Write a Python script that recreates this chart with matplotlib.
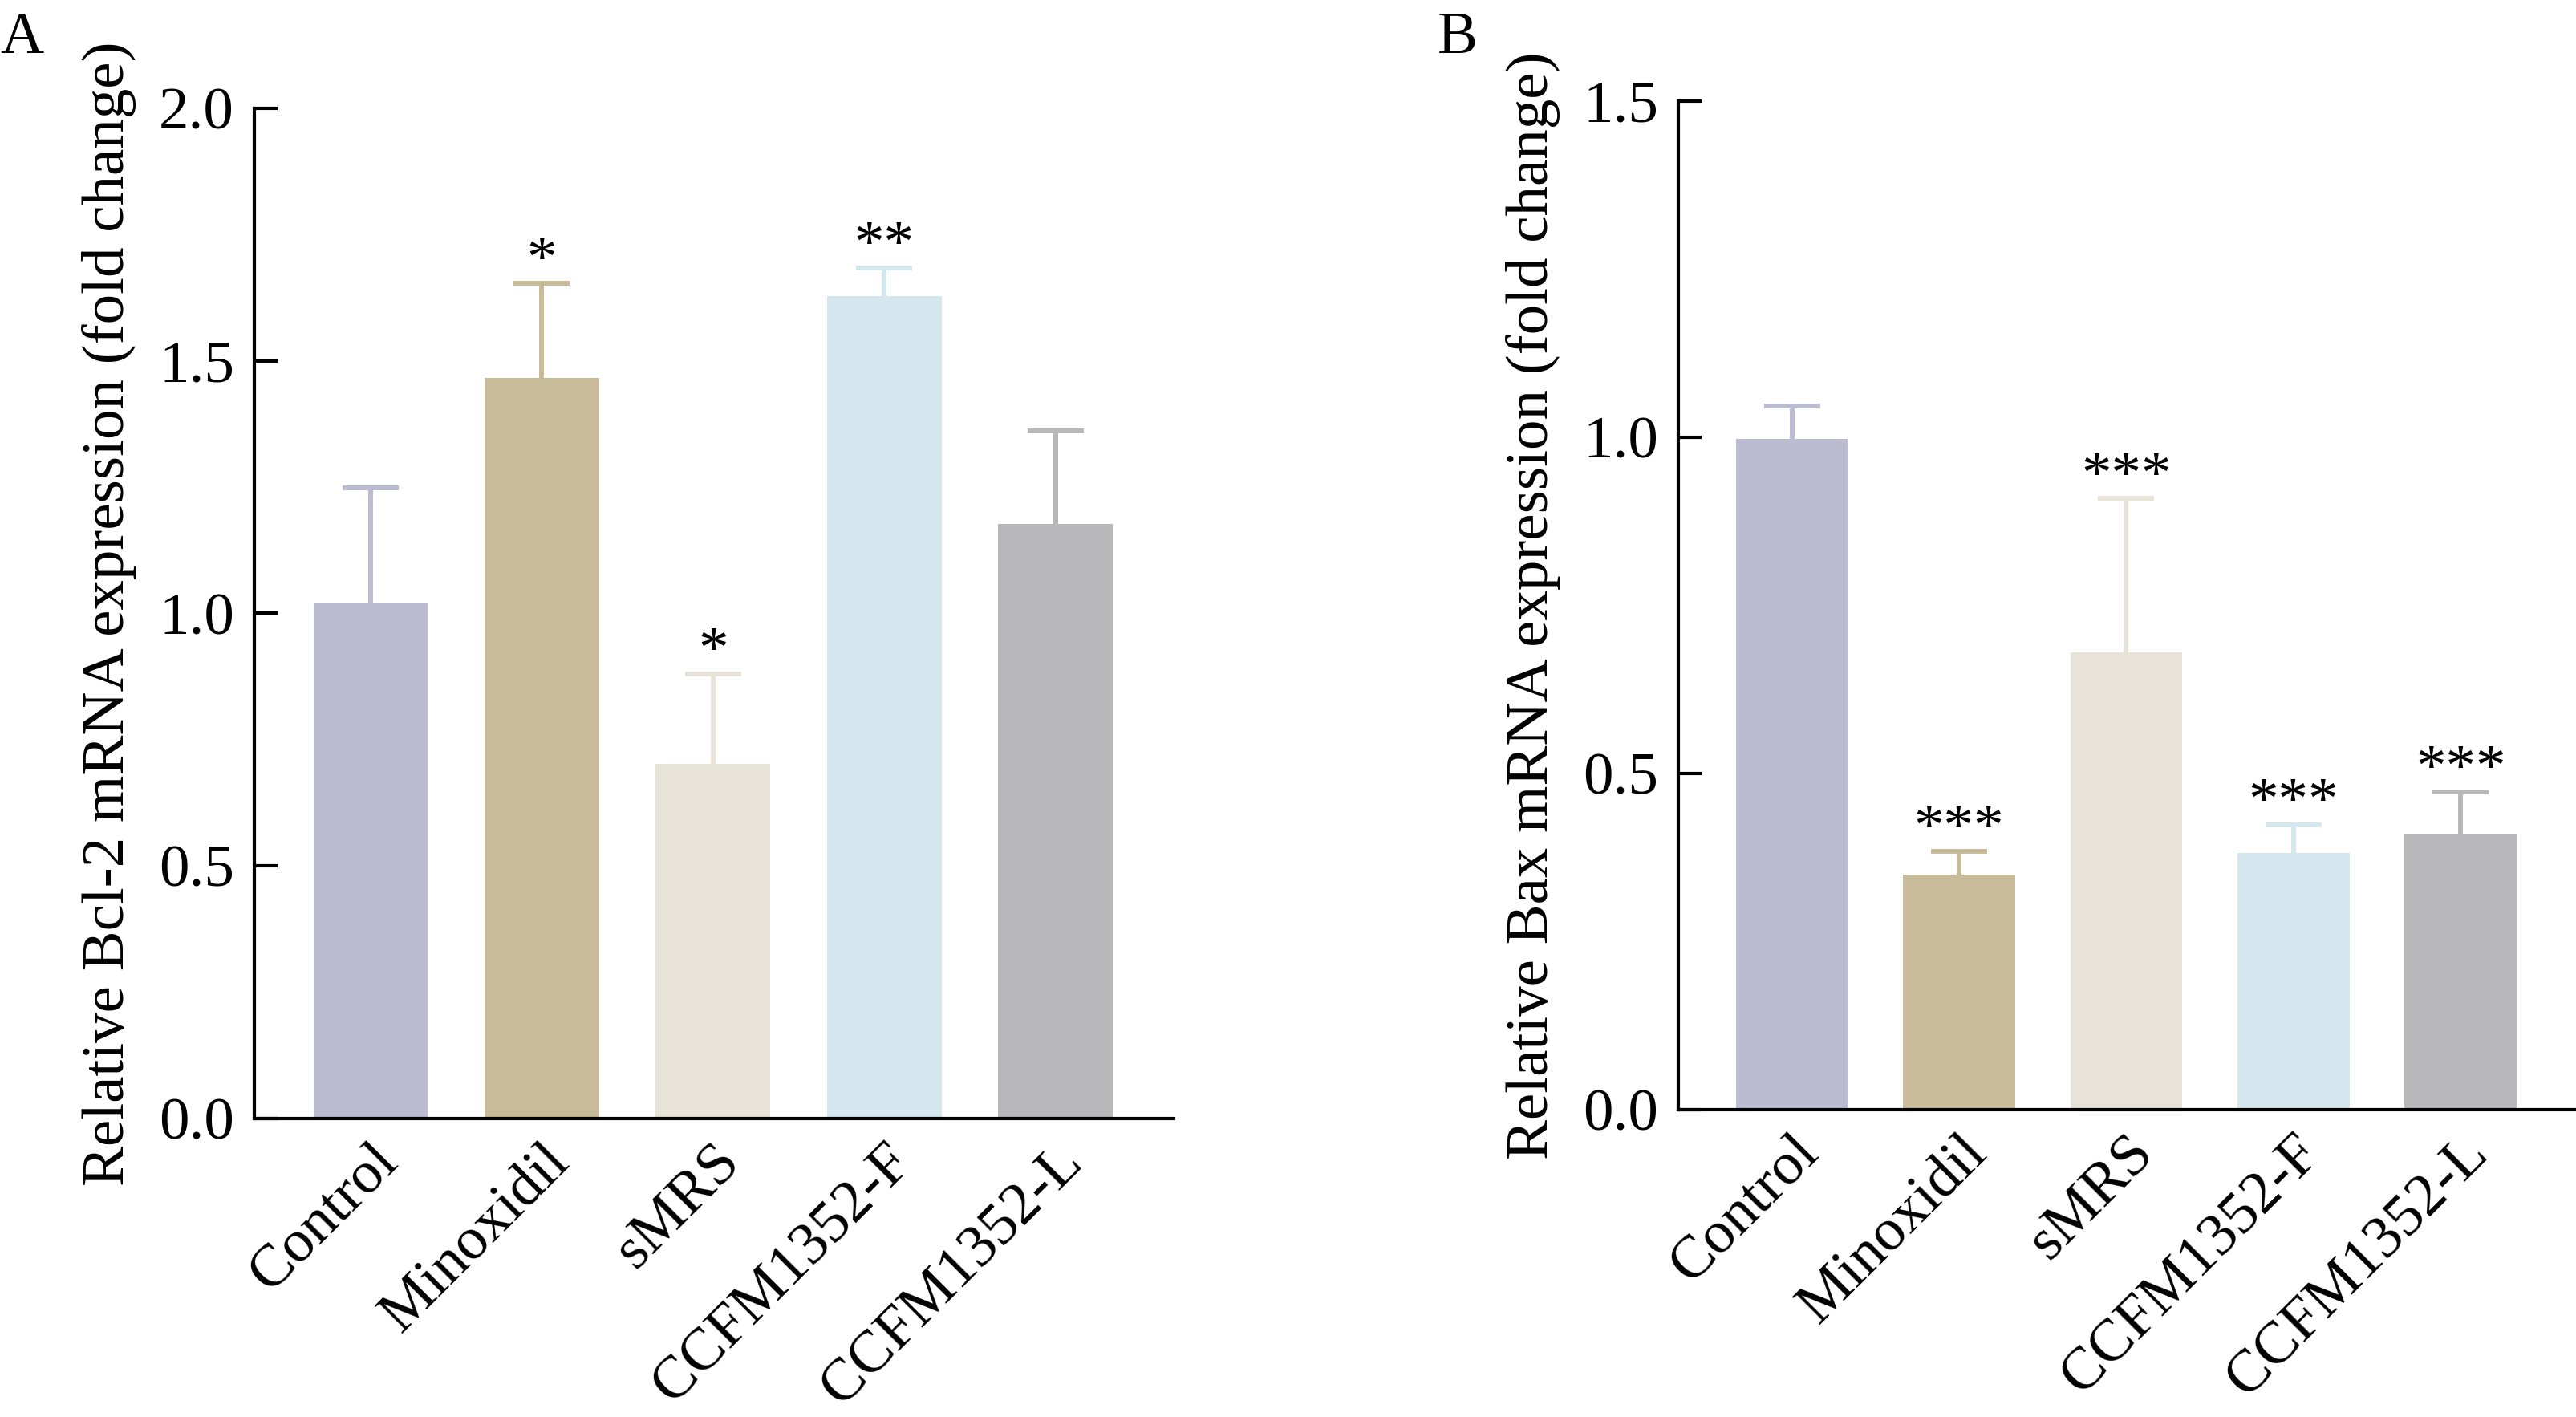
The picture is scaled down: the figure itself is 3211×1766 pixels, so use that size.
import matplotlib
matplotlib.use("Agg")
import matplotlib.pyplot as plt

plt.rcParams['font.family'] = ['Liberation Serif', 'DejaVu Serif']

groups = ["Control", "Minoxidil", "sMRS", "CCFM1352-F", "CCFM1352-L"]
colors = ["#BBBBD1", "#C8BB9A", "#E8E3D8", "#D4E7EE", "#B8B8BA"]

# panel A: Bcl-2
bcl2_mean = [1.02, 1.466, 0.702, 1.628, 1.177]
bcl2_sd = [0.229, 0.188, 0.178, 0.056, 0.184]
bcl2_sig = ["", "*", "*", "**", ""]

# panel B: Bax
bax_mean = [0.998, 0.350, 0.680, 0.382, 0.409]
bax_sd = [0.049, 0.034, 0.229, 0.042, 0.064]
bax_sig = ["", "***", "***", "***", "***"]

FS = 54


def draw_panel(ax, means, sds, sig, ymax, yticks, ylabel):
    x = range(len(groups))
    ax.bar(x, means, width=0.67, color=colors, zorder=2)
    for i in x:
        eb = ax.errorbar(i, means[i], yerr=[[0], [sds[i]]], fmt='none',
                         ecolor=colors[i], elinewidth=4.3, capsize=25,
                         capthick=4.3, zorder=1)
        # only keep the upper cap
        eb[1][0].set_visible(False)
        if sig[i]:
            ax.annotate(sig[i], xy=(i, means[i] + sds[i]), xytext=(0, -6),
                        textcoords='offset points', ha='center', va='bottom',
                        fontsize=FS)
    ax.set_xlim(-0.68, 4.69)
    ax.set_ylim(0, ymax)
    ax.set_yticks(yticks)
    ax.set_yticklabels([f"{t:.1f}" for t in yticks], fontsize=FS)
    ax.set_xticks(list(x))
    ax.set_xticklabels(groups, rotation=45, ha='right',
                       rotation_mode='anchor', fontsize=FS)
    ax.set_ylabel(ylabel, fontsize=FS, labelpad=20)
    for s in ['top', 'right']:
        ax.spines[s].set_visible(False)
    for s in ['left', 'bottom']:
        ax.spines[s].set_linewidth(3)
    ax.tick_params(axis='y', direction='in', length=21, width=3, pad=18)
    ax.tick_params(axis='x', length=0, pad=14)


fig = plt.figure(figsize=(32.11, 17.66), dpi=100)
ax1 = fig.add_axes([0.0987, 0.2107, 0.3569, 0.7129])
ax2 = fig.add_axes([0.6515, 0.2169, 0.3485, 0.7118])

draw_panel(ax1, bcl2_mean, bcl2_sd, bcl2_sig, 2.0, [0.0, 0.5, 1.0, 1.5, 2.0],
           "Relative Bcl-2 mRNA expression (fold change)")
draw_panel(ax2, bax_mean, bax_sd, bax_sig, 1.5, [0.0, 0.5, 1.0, 1.5],
           "Relative Bax mRNA expression (fold change)")

fig.text(0.0, 0.992, "A", fontsize=FS, va='top', ha='left')
fig.text(0.558, 0.992, "B", fontsize=FS, va='top', ha='left')

fig.savefig("out.png", dpi=100)
